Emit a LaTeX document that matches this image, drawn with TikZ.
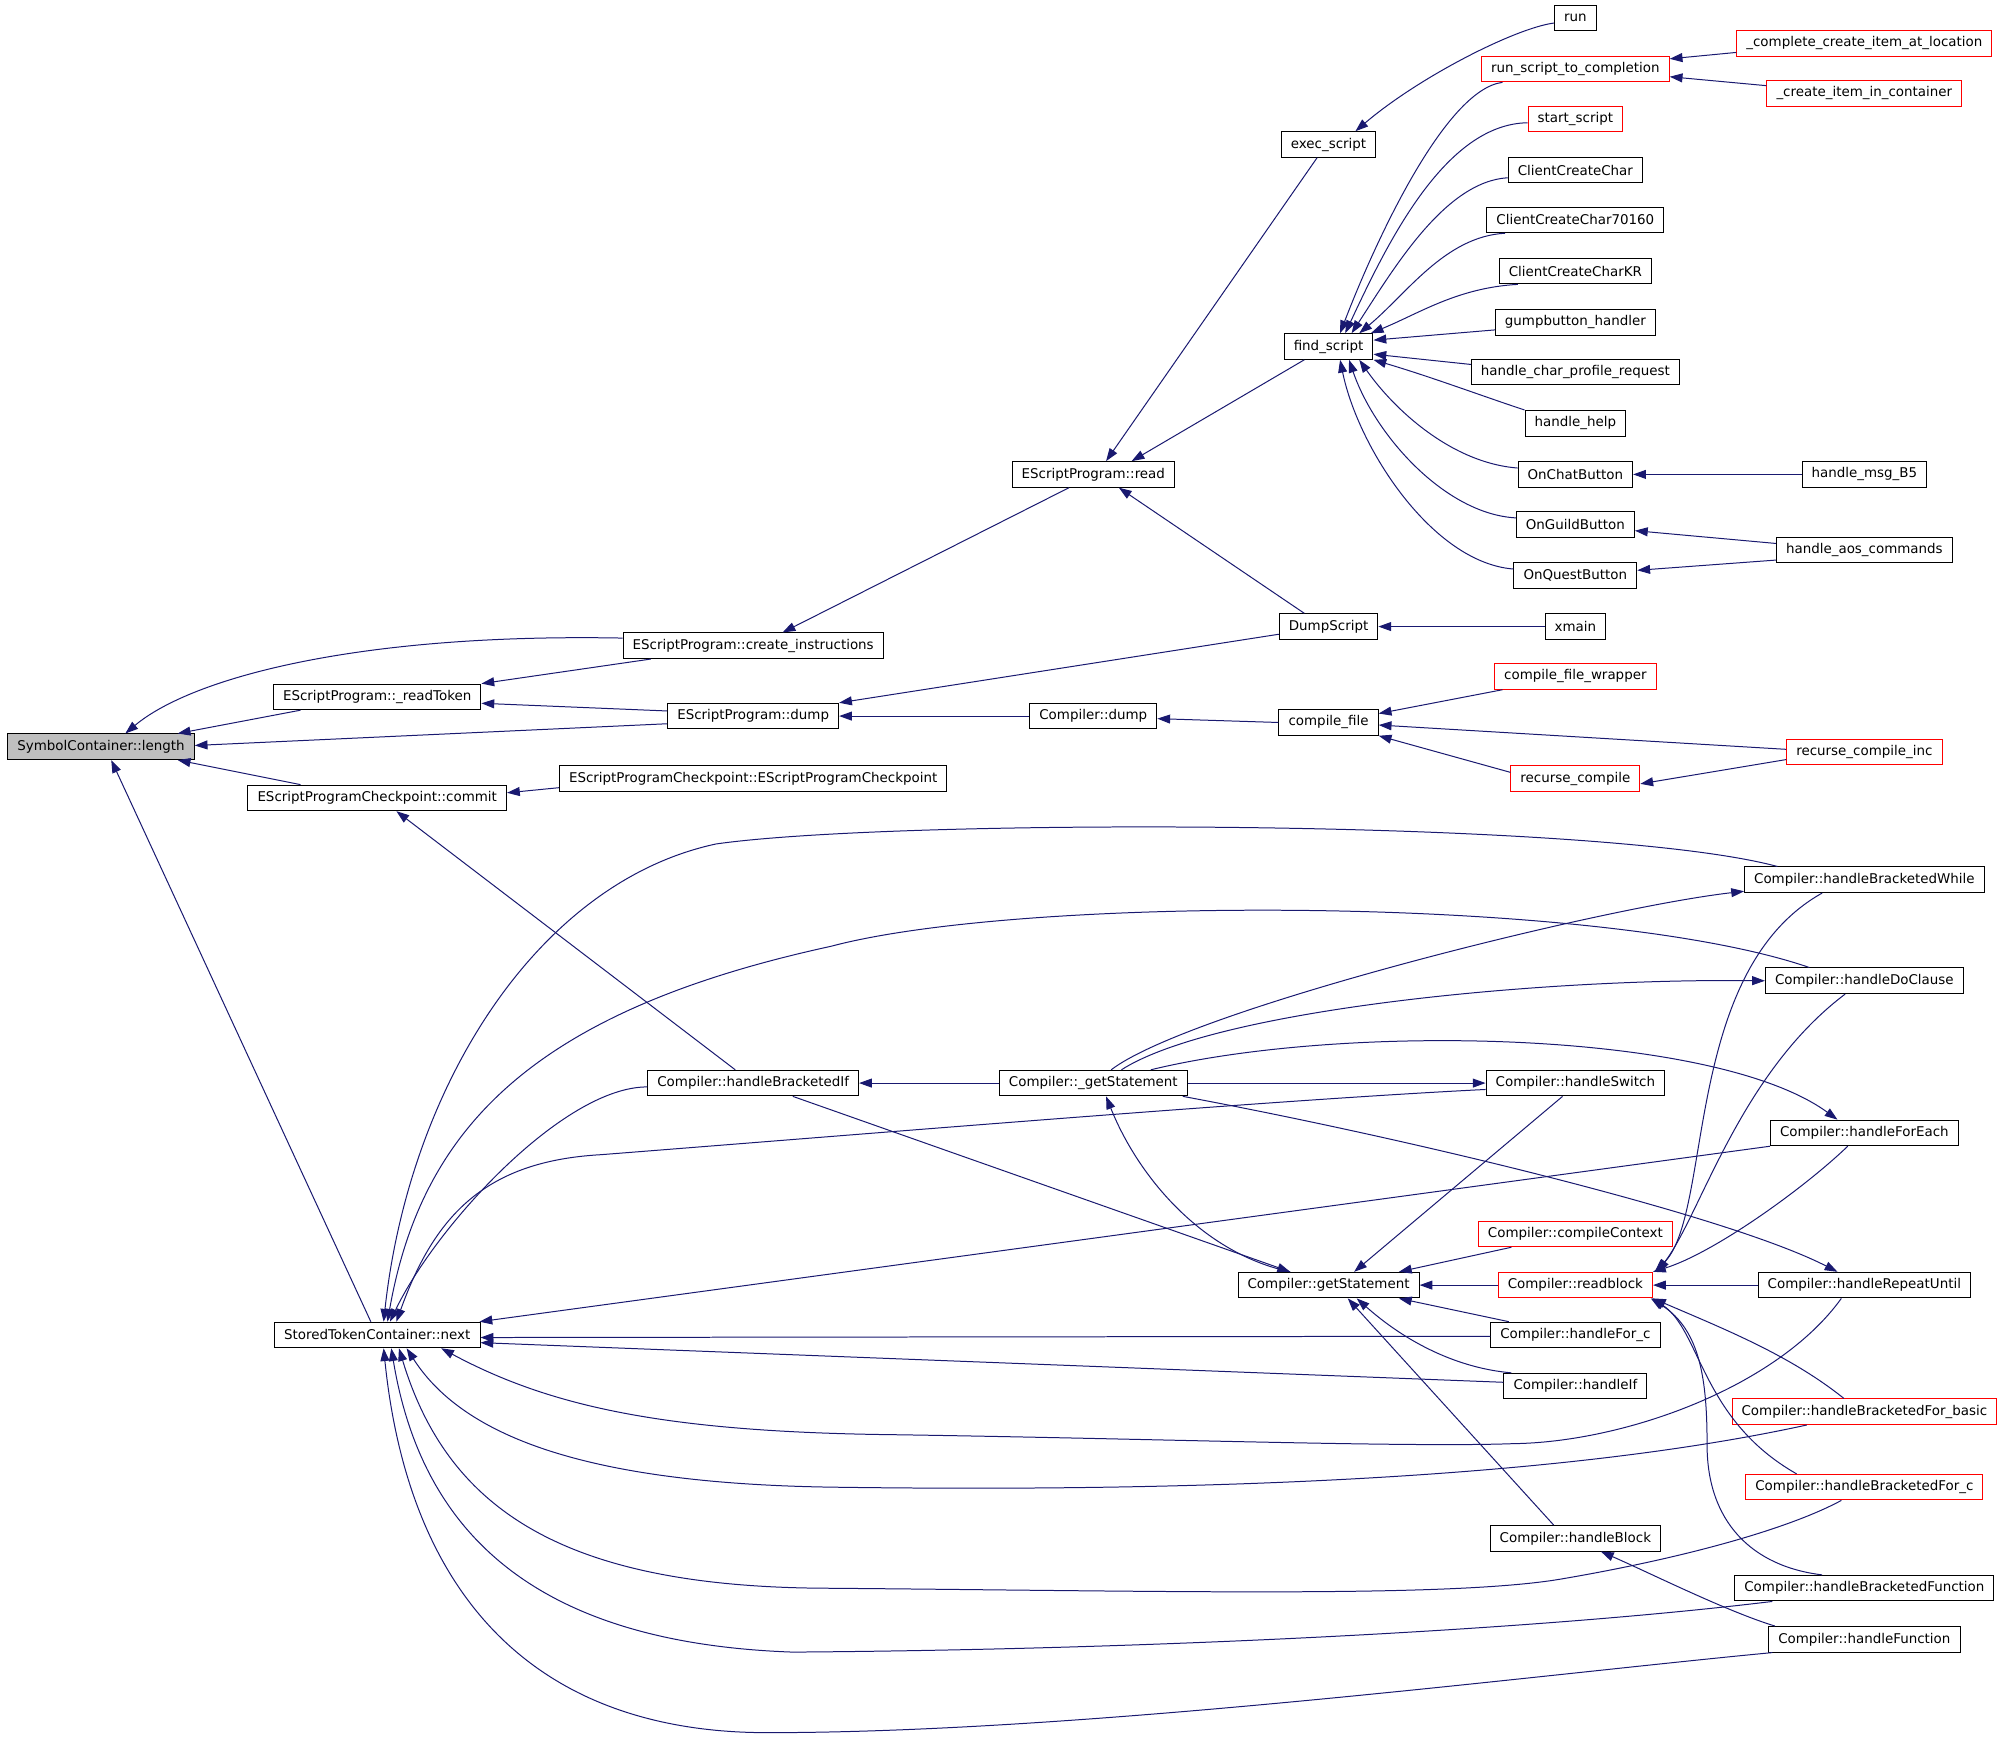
\documentclass[tikz,border=0pt]{standalone}
\usepackage{fontspec}
\setmainfont{DejaVu Sans}
\usetikzlibrary{arrows.meta}
\definecolor{callblue}{HTML}{191970}
\definecolor{rootgray}{HTML}{BFBFBF}
\tikzset{x=1pt, y=-1pt, % One unit is one pixel of the layout, y grows downwards
func/.style={ % Sets the properties for each function box
draw, rectangle, line width=0.78pt, fill=white,
inner xsep=7.5pt, inner ysep=0pt, minimum height=20pt,
font=\fontsize{10.5}{12}\selectfont},
root/.style={fill=rootgray}, % The function the graph is drawn for
undoc/.style={draw=red}, % Red frame
call/.style={ % Sets the properties for each call
draw=callblue, <-, >={Triangle[length=10pt,width=7pt]}, % Arrow sits at the callee
line width=0.78pt},
every edge/.style={call}}

\begin{document}
\begin{tikzpicture}
    \path[fill=white] (0,0) rectangle (1568,1358);
    \useasboundingbox (0,0) rectangle (1568,1358);

    \node[func, root] (len) at (79,584) {SymbolContainer::length};
    \node[func] (rdTok) at (295,545) {EScriptProgram::\_readToken};
    \node[func] (crIns) at (589,505) {EScriptProgram::create\_instructions};
    \node[func] (dump) at (589,560) {EScriptProgram::dump};
    \node[func] (commit) at (295,624) {EScriptProgramCheckpoint::commit};
    \node[func] (ckCtor) at (589,609) {EScriptProgramCheckpoint::EScriptProgramCheckpoint};
    \node[func] (next) at (295,1044) {StoredTokenContainer::next};
    \node[func] (read) at (855,371) {EScriptProgram::read};
    \node[func] (cDump) at (855,560) {Compiler::dump};
    \node[func] (brIf) at (589,847) {Compiler::handleBracketedIf};
    \node[func] (uGetSt) at (855,847) {Compiler::\_getStatement};
    \node[func] (exec) at (1039,113) {exec\_script};
    \node[func] (find) at (1039,271) {find\_script};
    \node[func] (dumpScr) at (1039,490) {DumpScript};
    \node[func] (cFile) at (1039,565) {compile\_file};
    \node[func] (getSt) at (1039,1005) {Compiler::getStatement};
    \node[func] (run) at (1232,14) {run};
    \node[func, undoc] (rstc) at (1232,54) {run\_script\_to\_completion};
    \node[func, undoc] (startS) at (1232,93) {start\_script};
    \node[func] (ccc) at (1232,133) {ClientCreateChar};
    \node[func] (ccc7) at (1232,172) {ClientCreateChar70160};
    \node[func] (cccKR) at (1232,212) {ClientCreateCharKR};
    \node[func] (gump) at (1232,252) {gumpbutton\_handler};
    \node[func] (hcpr) at (1232,291) {handle\_char\_profile\_request};
    \node[func] (hHelp) at (1232,331) {handle\_help};
    \node[func] (chatB) at (1232,371) {OnChatButton};
    \node[func] (guildB) at (1232,410) {OnGuildButton};
    \node[func] (questB) at (1232,450) {OnQuestButton};
    \node[func] (xmain) at (1232,490) {xmain};
    \node[func, undoc] (cfw) at (1232,529) {compile\_file\_wrapper};
    \node[func, undoc] (rComp) at (1232,609) {recurse\_compile};
    \node[func] (hSwitch) at (1232,847) {Compiler::handleSwitch};
    \node[func, undoc] (cCtx) at (1232,965) {Compiler::compileContext};
    \node[func, undoc] (rBlock) at (1232,1005) {Compiler::readblock};
    \node[func] (hForC) at (1232,1044) {Compiler::handleFor\_c};
    \node[func] (hIf) at (1232,1084) {Compiler::handleIf};
    \node[func] (hBlock) at (1232,1203) {Compiler::handleBlock};
    \node[func, undoc] (ccial) at (1458,34) {\_complete\_create\_item\_at\_location};
    \node[func, undoc] (ciic) at (1458,73) {\_create\_item\_in\_container};
    \node[func] (msgB5) at (1458,371) {handle\_msg\_B5};
    \node[func] (aos) at (1458,430) {handle\_aos\_commands};
    \node[func, undoc] (rci) at (1458,588) {recurse\_compile\_inc};
    \node[func] (brWhile) at (1458,688) {Compiler::handleBracketedWhile};
    \node[func] (hDo) at (1458,767) {Compiler::handleDoClause};
    \node[func] (hForEach) at (1458,886) {Compiler::handleForEach};
    \node[func] (hRepeat) at (1458,1005) {Compiler::handleRepeatUntil};
    \node[func, undoc] (brForB) at (1458,1104) {Compiler::handleBracketedFor\_basic};
    \node[func, undoc] (brForC) at (1458,1163) {Compiler::handleBracketedFor\_c};
    \node[func] (brFunc) at (1458,1242) {Compiler::handleBracketedFunction};
    \node[func] (hFunc) at (1458,1282) {Compiler::handleFunction};

    % callers of SymbolContainer::length
    \draw[call] ([xshift=19]len.north) .. controls (150,530) and (280,495) .. ([yshift=6]crIns.west);
    \draw ([xshift=60]len.north) edge ([xshift=-60]rdTok.south);
    \draw ([yshift=1]len.east) edge ([yshift=-6]dump.west);
    \draw ([xshift=60]len.south) edge ([xshift=-60]commit.north);
    \draw ([xshift=8]len.south) edge ([xshift=-5]next.north);

    \draw (rdTok.north east) edge ([xshift=-80]crIns.south);
    \draw ([yshift=-5]rdTok.east) edge ([yshift=4]dump.west);
    \draw ([xshift=23]crIns.north) edge ([xshift=-19]read.south);
    \draw (dump.north east) edge ([yshift=-6]dumpScr.west);
    \draw (dump) edge (cDump);
    \draw ([yshift=4]commit.east) edge ([yshift=-7]ckCtor.west);
    \draw ([xshift=15]commit.south) edge ([xshift=-14]brIf.north);

    \draw ([xshift=10]read.north) edge ([xshift=-9]exec.south);
    \draw ([xshift=30]read.north) edge ([xshift=-19]find.south);
    \draw ([xshift=20]read.south) edge ([xshift=-19]dumpScr.north);
    \draw[call] ([xshift=21]exec.north) .. controls (1110,60) and (1185,22) .. ([yshift=-4]run.west);

    % callers of find_script
    \draw[call] ([xshift=9]find.north) .. controls (1075,190) and (1130,70) .. ([xshift=-57]rstc.south);
    \draw[call] ([xshift=13]find.north) .. controls (1085,190) and (1130,97) .. ([yshift=-3]startS.west);
    \draw[call] ([xshift=18]find.north) .. controls (1090,210) and (1130,142) .. ([yshift=-6]ccc.west);
    \draw[call] ([xshift=24]find.north) .. controls (1100,230) and (1130,185) .. ([xshift=-55]ccc7.south);
    \draw[call] ([xshift=33]find.north) .. controls (1110,245) and (1140,225) .. ([xshift=-45]cccKR.south);
    \draw ([yshift=5]find.east) edge ([yshift=-6]gump.west);
    \draw ([yshift=-6]find.east) edge ([yshift=6]hcpr.west);
    \draw[call] (find.south east) .. controls (1120,295) and (1160,310) .. (hHelp.north west);
    \draw[call] ([xshift=24]find.south) .. controls (1090,320) and (1135,362) .. ([yshift=5]chatB.west);
    \draw[call] ([xshift=16]find.south) .. controls (1075,340) and (1130,402) .. ([yshift=5]guildB.west);
    \draw[call] ([xshift=9]find.south) .. controls (1062,350) and (1120,440) .. ([yshift=5]questB.west);

    \draw ([yshift=8]rstc.east) edge ([yshift=-7]ccial.west);
    \draw ([yshift=-6]rstc.east) edge ([yshift=6]ciic.west);
    \draw (chatB) edge (msgB5);
    \draw ([yshift=-5]guildB.east) edge ([yshift=5]aos.west);
    \draw ([yshift=4]questB.east) edge ([yshift=-8]aos.west);
    \draw (dumpScr) edge (xmain);
    \draw ([yshift=-2]cDump.east) edge (cFile.west);
    \draw ([yshift=7]cFile.east) edge ([xshift=-57]cfw.south);
    \draw ([yshift=-2]cFile.east) edge ([yshift=2]rci.west);
    \draw (cFile.south east) edge ([yshift=5]rComp.west);
    \draw ([yshift=-4]rComp.east) edge ([yshift=-6]rci.west);

    % statement compiler
    \draw (brIf) edge (uGetSt);
    \draw ([xshift=-30]getSt.north) edge ([xshift=31]brIf.south);
    \draw[call] ([xshift=10]uGetSt.south) .. controls (890,920) and (940,980) .. ([xshift=-30]getSt.north);
    \draw[call] ([yshift=-9]brWhile.west) .. controls (1250,710) and (930,790) .. ([xshift=14]uGetSt.north);
    \draw[call] (hDo.west) .. controls (1200,765) and (950,790) .. ([xshift=22]uGetSt.north);
    \draw (hSwitch) edge (uGetSt);
    \draw[call] ([xshift=-21]hForEach.north) .. controls (1340,805) and (1050,800) .. ([xshift=45]uGetSt.north);
    \draw[call] ([xshift=-21]hRepeat.north) .. controls (1350,950) and (1100,890) .. ([xshift=70]uGetSt.south);

    % callers of StoredTokenContainer::next
    \draw[call] ([xshift=10]next.north) .. controls (340,960) and (440,850) .. ([yshift=-3]brIf.west);
    \draw[call] ([xshift=15]next.north) .. controls (340,950) and (380,908) .. (470,903)
        .. controls (700,885) and (1000,860) .. ([yshift=-5]hSwitch.west);
    \draw[call] ([xshift=5]next.north) .. controls (320,850) and (420,690) .. (560,660)
        .. controls (700,640) and (1250,640) .. ([xshift=-68]brWhile.north);
    \draw[call] ([xshift=8]next.north) .. controls (330,880) and (420,790) .. (650,740)
        .. controls (800,700) and (1250,700) .. ([xshift=-43]hDo.north);
    \draw ([xshift=80]next.north) edge (hForEach.south west);
    \draw ([yshift=-2]next.east) edge ([yshift=-1]hForC.west);
    \draw ([yshift=-6]next.east) edge ([yshift=3]hIf.west);
    \draw[call] ([xshift=50]next.south) .. controls (430,1100) and (520,1120) .. (700,1122)
        .. controls (900,1125) and (1100,1132) .. (1183,1129)
        .. controls (1270,1128) and (1390,1085) .. ([xshift=-18]hRepeat.south);
    \draw[call] ([xshift=23]next.south) .. controls (360,1120) and (450,1160) .. (650,1163)
        .. controls (1000,1168) and (1250,1150) .. ([xshift=-45]brForB.south);
    \draw[call] ([xshift=17]next.south) .. controls (350,1180) and (440,1240) .. (640,1242)
        .. controls (900,1244) and (1130,1250) .. (1220,1235)
        .. controls (1320,1218) and (1400,1195) .. ([xshift=-18]brForC.south);
    \draw[call] ([xshift=11]next.south) .. controls (330,1200) and (420,1285) .. (620,1292)
        .. controls (900,1290) and (1200,1275) .. ([xshift=-72]brFunc.south);
    \draw[call] ([xshift=5]next.south) .. controls (320,1250) and (420,1355) .. (600,1355)
        .. controls (850,1355) and (1200,1310) .. ([xshift=-72]hFunc.south);

    % callers of Compiler::getStatement
    \draw (getSt) edge (rBlock);
    \draw ([xshift=55]getSt.north) edge ([xshift=-50]cCtx.south);
    \draw ([xshift=20]getSt.north) edge ([xshift=-10]hSwitch.south);
    \draw ([xshift=55]getSt.south) edge ([xshift=-52]hForC.north);
    \draw[call] ([xshift=22]getSt.south) .. controls (1100,1050) and (1140,1070) .. ([xshift=-50]hIf.north);
    \draw ([xshift=15]getSt.south) edge ([xshift=-17]hBlock.north);

    % callers of Compiler::readblock
    \draw[call] ([xshift=62]rBlock.north) .. controls (1340,950) and (1315,760) .. ([xshift=-33]brWhile.south);
    \draw[call] ([xshift=64]rBlock.north) .. controls (1330,950) and (1360,840) .. ([xshift=-15]hDo.south);
    \draw[call] (rBlock.north east) .. controls (1340,980) and (1410,930) .. ([xshift=-13]hForEach.south);
    \draw (rBlock) edge (hRepeat);
    \draw[call] (rBlock.south east) .. controls (1350,1040) and (1400,1060) .. ([xshift=-16]brForB.north);
    \draw[call] ([xshift=60]rBlock.south) .. controls (1330,1040) and (1330,1110) .. ([xshift=-53]brForC.north);
    \draw[call] ([xshift=59]rBlock.south) .. controls (1330,1040) and (1335,1080) .. (1335,1130)
        .. controls (1335,1190) and (1370,1225) .. ([xshift=-33]brFunc.north);
    \draw[call] ([xshift=20]hBlock.south) .. controls (1290,1230) and (1350,1260) .. ([xshift=-70]hFunc.north);

\end{tikzpicture}
\end{document}
